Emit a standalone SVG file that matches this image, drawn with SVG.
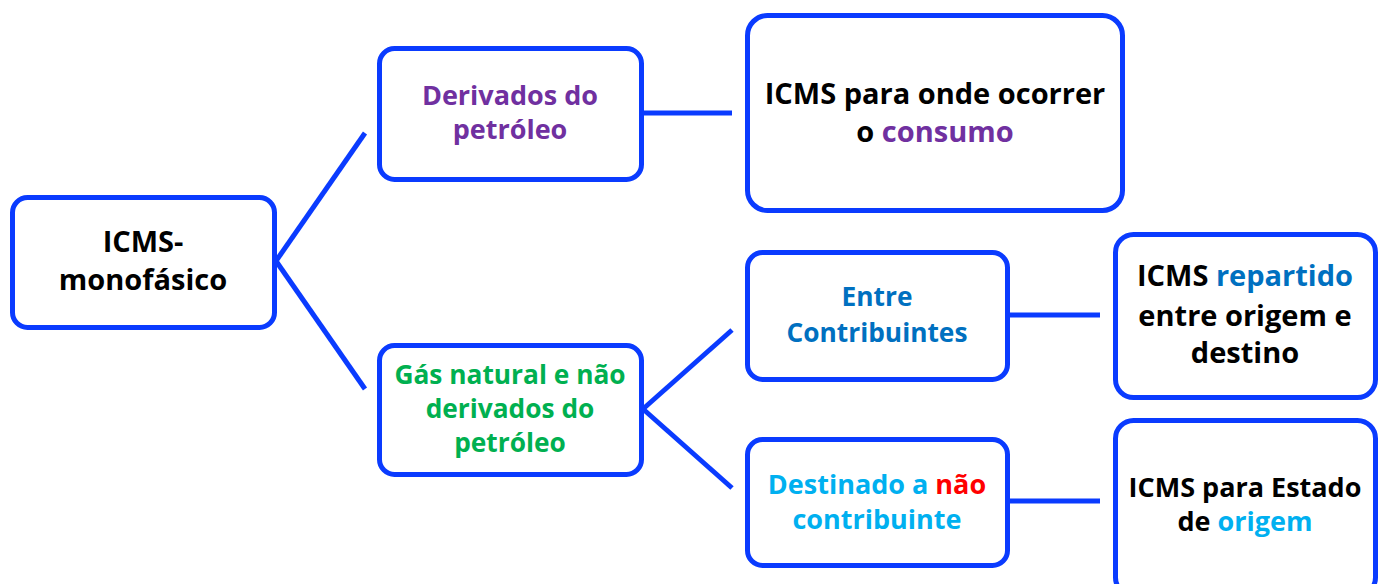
<svg xmlns="http://www.w3.org/2000/svg" width="1383" height="584" viewBox="0 0 1383 584">
<style>
.box{fill:#fff;stroke:#0A3BFF;stroke-width:5}
.ln{stroke:#0A3BFF;stroke-width:5;fill:none}
text{font-family:"Open Sans",Lato,sans-serif;font-weight:bold;font-size:27px;text-anchor:middle;fill:#000}
.big{font-size:29px}.sm{font-size:26.3px}
.pu{fill:#7030A0}.gr{fill:#00B050}.bl{fill:#0070C0}.lb{fill:#00B0F0}.rd{fill:#FF0000}
</style>
<rect width="1383" height="584" fill="#fff"/>
<g id="connectors">
<path class="ln" d="M276,261 L365,133"/>
<path class="ln" d="M276,261 L365,389"/>
<path class="ln" d="M643,113 L732,113"/>
<path class="ln" d="M643,409 L732,330"/>
<path class="ln" d="M643,409 L732,488"/>
<path class="ln" d="M1009,315 L1100,315"/>
<path class="ln" d="M1009,501 L1100,501"/>
</g>
<g id="n1"><rect class="box" x="12.5" y="197.5" width="262" height="130" rx="15"/>
<text class="big" x="143" y="252">ICMS-</text><text class="big" x="143" y="290">monofásico</text></g>
<g id="n2"><rect class="box" x="379.5" y="48.5" width="262" height="131" rx="15"/>
<text class="pu" x="510" y="105">Derivados do</text><text class="pu" x="510" y="139">petróleo</text></g>
<g id="n3"><rect class="box" x="747.5" y="15.5" width="375" height="195" rx="20"/>
<text class="big" x="935" y="104">ICMS para onde ocorrer</text><text class="big" x="935" y="142">o <tspan class="pu">consumo</tspan></text></g>
<g id="n4"><rect class="box" x="379.5" y="345.5" width="262" height="129" rx="15"/>
<text class="gr sm" x="510" y="384">Gás natural e não</text><text class="gr sm" x="510" y="418">derivados do</text><text class="gr sm" x="510" y="452">petróleo</text></g>
<g id="n5"><rect class="box" x="747.5" y="252.5" width="260" height="127" rx="15"/>
<text class="bl sm" x="877" y="306">Entre</text><text class="bl sm" x="877" y="342">Contribuintes</text></g>
<g id="n6"><rect class="box" x="1115.5" y="234.5" width="260" height="163" rx="18"/>
<text class="big" x="1245" y="286">ICMS <tspan class="bl">repartido</tspan></text><text class="big" x="1245" y="326">entre origem e</text><text class="big" x="1245" y="363">destino</text></g>
<g id="n7"><rect class="box" x="747.5" y="439.5" width="260" height="126" rx="15"/>
<text class="lb" x="877" y="494">Destinado a <tspan class="rd">não</tspan></text><text class="lb" x="877" y="529">contribuinte</text></g>
<g id="n8"><rect class="box" x="1115.5" y="420.5" width="260" height="175" rx="18"/>
<text x="1245" y="497">ICMS para Estado</text><text x="1245" y="531">de <tspan class="lb">origem</tspan></text></g>
</svg>
